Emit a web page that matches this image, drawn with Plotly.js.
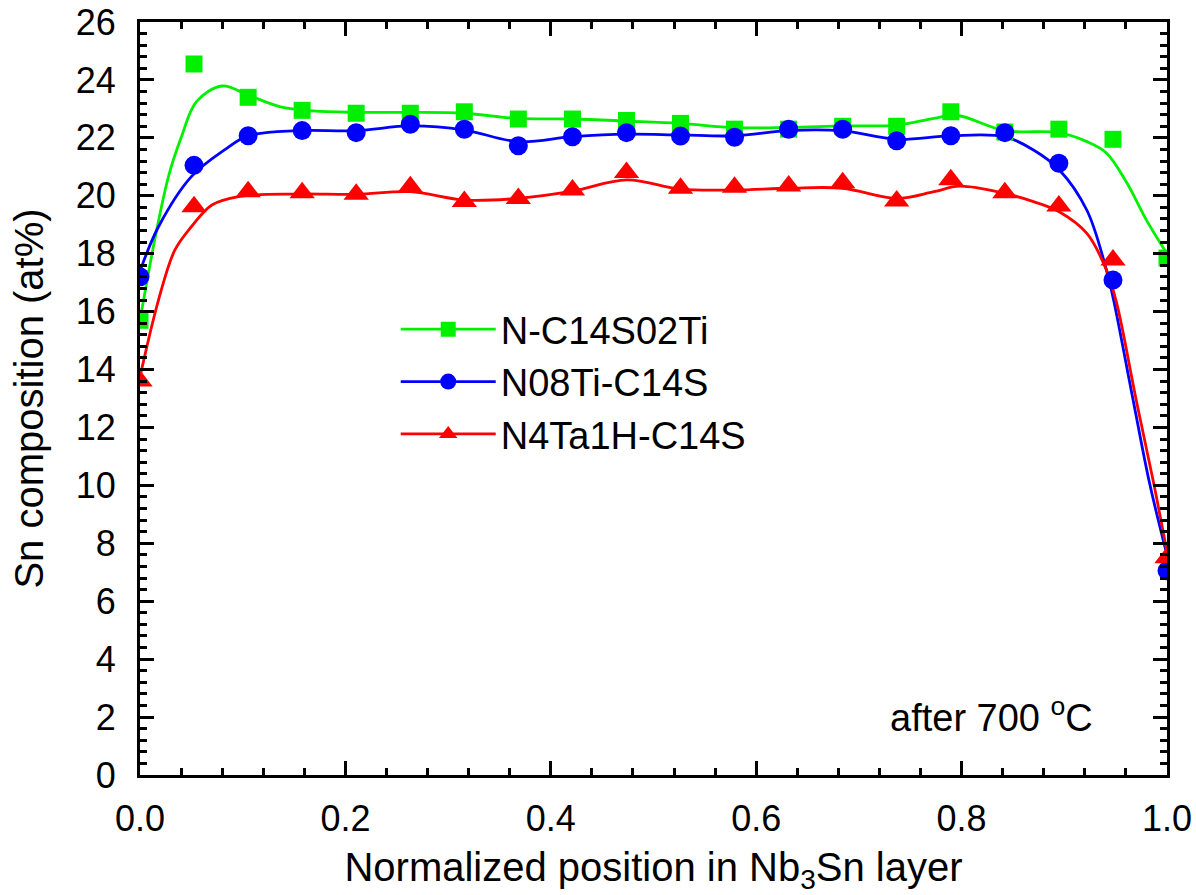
<!DOCTYPE html>
<html>
<head>
<meta charset="utf-8">
<script src="https://cdn.plot.ly/plotly-3.0.1.min.js"></script>
<style>html,body{margin:0;padding:0;background:#fff;}#chart{width:1196px;height:895px;}</style>
</head>
<body>
<div id="chart"></div>
<script>
// measured positions (normalized)
const posX = [0, 0.0526, 0.1053, 0.1579, 0.2105, 0.2632, 0.3158, 0.3684, 0.4211, 0.4737,
              0.5263, 0.5789, 0.6316, 0.6842, 0.7368, 0.7895, 0.8421, 0.8947, 0.9474, 1.0];

// measured Sn composition (at%)
const greenY = [15.7, 24.55, 23.4, 22.95, 22.85, 22.85, 22.9, 22.65, 22.65, 22.6,
                22.5, 22.3, 22.3, 22.4, 22.4, 22.9, 22.2, 22.3, 21.95, 17.85];
const blueY  = [17.2, 21.05, 22.07, 22.25, 22.18, 22.47, 22.3, 21.73, 22.04, 22.18,
                22.06, 22.02, 22.3, 22.3, 21.9, 22.07, 22.18, 21.12, 17.09, 7.05];
const redY   = [13.6, 19.62, 20.14, 20.1, 20.05, 20.31, 19.8, 19.91, 20.2, 20.8,
                20.26, 20.29, 20.34, 20.45, 19.82, 20.55, 20.1, 19.65, 17.78, 7.5];

// smoothed fit curves
const greenFitX = [0, 0.015, 0.028, 0.04, 0.055, 0.08, 0.105, 0.136, 0.168, 0.21, 0.263, 0.316, 0.368,
                   0.421, 0.474, 0.526, 0.579, 0.632, 0.684, 0.737, 0.773, 0.795, 0.842, 0.895, 0.922,
                   0.941, 0.961, 0.98, 1.0];
const greenFitY = [15.7, 18.6, 20.7, 22.0, 23.25, 23.79, 23.48, 23.08, 22.93, 22.88, 22.88, 22.85, 22.67,
                   22.65, 22.58, 22.5, 22.35, 22.36, 22.41, 22.44, 22.67, 22.78, 22.25, 22.18, 21.87,
                   21.48, 20.44, 19.16, 18.0];
const blueFitX = [0, 0.018, 0.05, 0.083, 0.105, 0.153, 0.211, 0.263, 0.316, 0.368, 0.421, 0.474, 0.526,
                  0.579, 0.632, 0.684, 0.737, 0.789, 0.842, 0.87, 0.895, 0.922, 0.941, 0.948, 0.967,
                  0.983, 1.0];
const blueFitY = [17.4, 18.93, 20.66, 21.6, 22.07, 22.25, 22.25, 22.41, 22.27, 21.87, 22.04, 22.13, 22.1,
                  22.07, 22.25, 22.24, 21.95, 22.07, 22.04, 21.58, 20.9, 19.5, 17.44, 16.4, 12.95,
                  10.08, 7.6];
const redFitX = [0, 0.018, 0.034, 0.05, 0.07, 0.096, 0.153, 0.211, 0.263, 0.316, 0.368, 0.421, 0.474,
                 0.526, 0.579, 0.632, 0.684, 0.737, 0.773, 0.798, 0.842, 0.87, 0.895, 0.922, 0.941,
                 0.951, 0.97, 0.987, 1.0];
const redFitY = [13.75, 16.4, 18.13, 18.93, 19.68, 19.97, 20.06, 20.05, 20.14, 19.85, 19.91, 20.16, 20.55,
                 20.23, 20.2, 20.26, 20.26, 19.91, 20.14, 20.33, 20.08, 19.8, 19.45, 18.7, 17.44,
                 16.29, 12.95, 10.08, 7.7];

const seriesNames = ['N-C14S02Ti', 'N08Ti-C14S', 'N4Ta1H-C14S'];
const xTickVals = [0, 0.2, 0.4, 0.6, 0.8, 1.0];
const xTickText = ['0.0', '0.2', '0.4', '0.6', '0.8', '1.0'];

const colors = ['#00f000', '#0000ff', '#ff0000'];
const symbols = ['square', 'circle', 'triangle-up'];
const sizes = [17, 19, 22];
const fits = [[greenFitX, greenFitY], [blueFitX, blueFitY], [redFitX, redFitY]];
const pts = [greenY, blueY, redY];

const traces = [];
for (let i = 0; i < 3; i++) {
  traces.push({x: fits[i][0], y: fits[i][1], mode: 'lines', showlegend: false, hoverinfo: 'skip',
    line: {color: colors[i], width: 2.8, shape: 'spline', smoothing: 1}, cliponaxis: true});
}
for (let i = 0; i < 3; i++) {
  traces.push({x: posX, y: pts[i], mode: 'markers', showlegend: false, cliponaxis: true,
    marker: {color: colors[i], symbol: symbols[i], size: sizes[i], line: {width: 0}}});
}
for (let i = 0; i < 3; i++) {
  traces.push({x: [null], y: [null], mode: 'lines+markers', name: seriesNames[i],
    line: {color: colors[i], width: 2.8},
    marker: {color: colors[i], symbol: symbols[i], size: sizes[i] - 2}});
}

const fontFam = 'Liberation Sans, Arial, sans-serif';
const layout = {
  width: 1196, height: 895,
  margin: {l: 140, r: 29, t: 22, b: 120},
  paper_bgcolor: '#fff', plot_bgcolor: '#fff',
  font: {family: fontFam, color: '#000', size: 36},
  showlegend: true,
  legend: {x: 0.249, y: 0.6335, xanchor: 'left', yanchor: 'top', bgcolor: 'rgba(0,0,0,0)',
    font: {size: 38, family: fontFam}, tracegroupgap: 0, itemwidth: 95},
  xaxis: {
    range: [0, 1], tickvals: xTickVals, ticktext: xTickText,
    ticks: 'inside', ticklen: 14, tickwidth: 3, tickcolor: '#000',
    minor: {dtick: 0.04, tick0: 0, ticks: 'inside', ticklen: 7, tickwidth: 3, tickcolor: '#000', showgrid: false},
    showline: true, linewidth: 3, linecolor: '#000', mirror: 'ticks',
    showgrid: false, zeroline: false, ticklabelstandoff: 10,
    tickfont: {size: 36},
    title: {text: 'Normalized position in Nb<sub>3</sub>Sn layer', font: {size: 40}, standoff: 20}
  },
  yaxis: {
    range: [0, 26], dtick: 2, tick0: 0,
    ticks: 'inside', ticklen: 14, tickwidth: 3, tickcolor: '#000',
    minor: {dtick: 0.4, tick0: 0, ticks: 'inside', ticklen: 7, tickwidth: 3, tickcolor: '#000', showgrid: false},
    showline: true, linewidth: 3, linecolor: '#000', mirror: 'ticks',
    showgrid: false, zeroline: false, ticklabelstandoff: 14,
    tickfont: {size: 36},
    title: {text: 'Sn composition (at%)', font: {size: 40}, standoff: 20}
  },
  annotations: [{
    xref: 'x', yref: 'y', x: 0.93, y: 2.07, xanchor: 'right', yanchor: 'middle', showarrow: false,
    text: 'after 700 <sup>o</sup>C', font: {size: 38, family: fontFam}
  }]
};

Plotly.newPlot('chart', traces, layout, {displayModeBar: false, staticPlot: true});
</script>
</body>
</html>
